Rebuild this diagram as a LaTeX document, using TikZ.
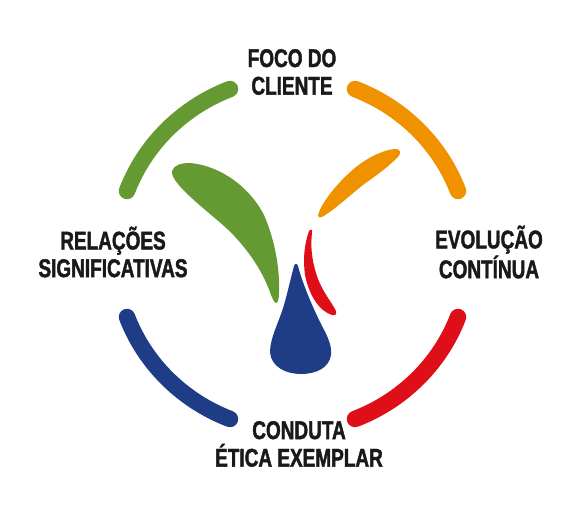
\documentclass[tikz,border=0pt]{standalone}
\usepackage{fontspec}
\setmainfont{Liberation Sans}[FakeStretch=0.74,BoldFeatures={FakeBold=1.6}]
\definecolor{leafgreen}{HTML}{659A33}
\definecolor{leaforange}{HTML}{F09200}
\definecolor{leafred}{HTML}{DF0F1A}
\definecolor{dropblue}{HTML}{1F3C87}
\tikzset{
  ringarc/.style={line width=0.33cm, line cap=round},
  ringlabel/.style={align=center, inner sep=0pt, font=\fontsize{14.6}{15.7}\selectfont\bfseries, text=black!90}
}
\begin{document}
\begin{tikzpicture}[x=0.02cm, y=-0.02cm]
    \useasboundingbox (0,0) rectangle (584,520);

    % Outer ring
    \draw[ringarc, leafgreen] (127,191) .. controls (145,144) and (183,107) .. (230,89);
    \draw[ringarc, leaforange] (355,89) .. controls (402,107) and (440,144) .. (458,191);
    \draw[ringarc, leafred] (458,317) .. controls (440,364) and (402,401) .. (355,419);
    \draw[ringarc, dropblue] (127,317) .. controls (145,364) and (183,401) .. (230,419);

    % Leaves
    \fill[leafgreen] (172,171) .. controls (174,165) and (181,163) .. (190,163)
        .. controls (222,166) and (250,188) .. (264,215)
        .. controls (275,240) and (280,270) .. (279,292)
        .. controls (279,299) and (278,303) .. (276,303)
        .. controls (274,303) and (273,299) .. (271,295)
        .. controls (262,268) and (243,243) .. (224,226)
        .. controls (205,209) and (170,183) .. (172,171) -- cycle;
    \fill[leaforange] (318,215) .. controls (322,201) and (340,180) .. (356,167)
        .. controls (370,156) and (386,149) .. (396,149)
        .. controls (401,149) and (401,154) .. (398,157)
        .. controls (390,165) and (380,173) .. (367,182)
        .. controls (352,193) and (336,209) .. (322,217)
        .. controls (319,218) and (318,217) .. (318,215) -- cycle;
    \fill[leafred] (309,231) .. controls (311,229) and (313,229) .. (312,233)
        .. controls (310,250) and (313,265) .. (318,279)
        .. controls (323,292) and (332,303) .. (336,311)
        .. controls (337,314) and (335,316) .. (332,315)
        .. controls (319,311) and (309,295) .. (305,275)
        .. controls (303,260) and (304,245) .. (309,231) -- cycle;

    % Drop
    \fill[dropblue] (294,266) .. controls (295,263) and (297,263) .. (298,266)
        .. controls (303,285) and (313,308) .. (322,326)
        .. controls (328,337) and (332,346) .. (331,355)
        .. controls (329,368) and (316,374) .. (301,374)
        .. controls (286,374) and (271,367) .. (270,352)
        .. controls (270,338) and (279,322) .. (284,305)
        .. controls (288,291) and (291,277) .. (294,266) -- cycle;

    % Labels
    \node[ringlabel] (cliente) at (292,72) {FOCO DO\\CLIENTE};
    \node[ringlabel] (evolucao) at (489,252) {EVOLUÇÃO\\CONTÍNUA};
    \node[ringlabel] (conduta) at (299,444) {CONDUTA\\ÉTICA EXEMPLAR};
    \node[ringlabel] (relacoes) at (113,252) {RELAÇÕES\\SIGNIFICATIVAS};
\end{tikzpicture}
\end{document}
